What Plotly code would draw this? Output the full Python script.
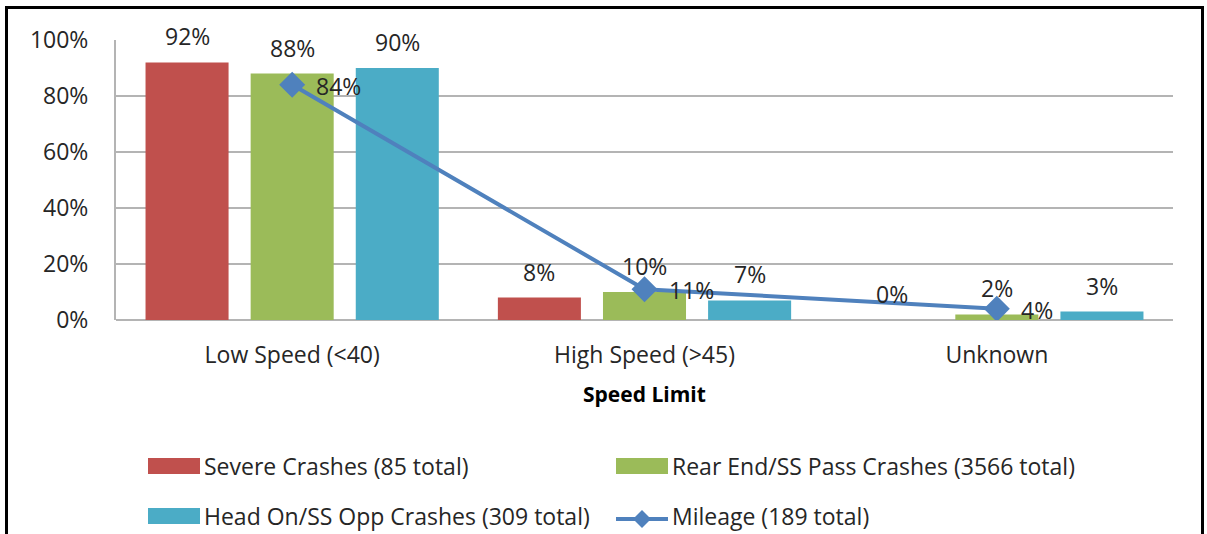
import plotly.graph_objects as go

# Crash share by posted speed limit
categories = ["Low Speed (<40)", "High Speed (>45)", "Unknown"]
severe = [92, 8, 0]
rear_end = [88, 10, 2]
head_on = [90, 7, 3]
mileage = [84, 11, 4]

bar_names = ["Severe Crashes (85 total)", "Rear End/SS Pass Crashes (3566 total)",
             "Head On/SS Opp Crashes (309 total)"]
line_name = "Mileage (189 total)"
y_ticks = [0, 20, 40, 60, 80, 100]

bar_colors = ["#C0504D", "#9BBB59", "#4BACC6"]
line_color = "#4F81BD"
text_color = "#262626"
grid_color = "#B4B4B4"
FONT = "Open Sans"
FS = 23

W, H = 1207, 534
ML, MR, MT, MB = 116, 34, 40, 214
PW, PH = W - ML - MR, H - MT - MB
BARGAP, GROUPGAP = 0.105, 0.21


def px(xpix):
    return (xpix - ML) / PW


def py(ypix):
    return (H - MB - ypix) / PH


fig = go.Figure()
series = [severe, rear_end, head_on]
for name, vals, col in zip(bar_names, series, bar_colors):
    fig.add_trace(go.Bar(x=categories, y=vals, name=name, marker_color=col,
                         marker_line_width=0, showlegend=False))

fig.add_trace(go.Scatter(x=categories, y=mileage, name=line_name, mode="lines+markers",
                         line=dict(color=line_color, width=4),
                         marker=dict(symbol="diamond", size=20, color=line_color),
                         showlegend=False))

annotations = []
slot = (1 - BARGAP) / len(series)
for j, vals in enumerate(series):
    for i, v in enumerate(vals):
        annotations.append(dict(x=i + (j - 1) * slot, y=v, xref="x", yref="y",
                                text=f"{v}%", showarrow=False, yshift=26,
                                font=dict(family=FONT, size=FS, color=text_color)))
for i, v in enumerate(mileage):
    annotations.append(dict(x=i, y=v, xref="x", yref="y", text=f"{v}%",
                            showarrow=False, xanchor="left", xshift=22, yshift=-1,
                            font=dict(family=FONT, size=FS, color=text_color)))

# axis title
annotations.append(dict(x=0.5, y=py(394), xref="paper", yref="paper",
                        text="<b>Speed Limit</b>", showarrow=False,
                        xanchor="center", yanchor="middle",
                        font=dict(family=FONT, size=21, color="#000000")))

shapes = []
# chart frame
shapes.append(dict(type="rect", xref="paper", yref="paper",
                   x0=px(6.5), x1=px(1202.5), y0=py(600), y1=py(7.5),
                   line=dict(color="#000000", width=3), fillcolor="rgba(0,0,0,0)"))

# legend
legend_rows = [(466, [(148, bar_names[0], bar_colors[0], "bar"),
                      (616, bar_names[1], bar_colors[1], "bar")]),
               (516, [(148, bar_names[2], bar_colors[2], "bar"),
                      (616, line_name, line_color, "line")])]
for yc, items in legend_rows:
    for x0, name, col, kind in items:
        if kind == "bar":
            shapes.append(dict(type="rect", xref="paper", yref="paper",
                               x0=px(x0), x1=px(x0 + 52), y0=py(yc + 8), y1=py(yc - 8),
                               fillcolor=col, line=dict(width=0)))
        else:
            shapes.append(dict(type="line", xref="paper", yref="paper",
                               x0=px(x0), x1=px(x0 + 52), y0=py(yc + 3), y1=py(yc + 3),
                               line=dict(color=col, width=4)))
            cx, cy, r = x0 + 26, yc + 3, 9
            path = (f"M {px(cx)} {py(cy - r)} L {px(cx + r)} {py(cy)} "
                    f"L {px(cx)} {py(cy + r)} L {px(cx - r)} {py(cy)} Z")
            shapes.append(dict(type="path", xref="paper", yref="paper", path=path,
                               fillcolor=col, line=dict(width=0)))
        annotations.append(dict(x=px(x0 + 54), y=py(yc), xref="paper", yref="paper",
                                text=name, showarrow=False, xanchor="left",
                                yanchor="middle",
                                font=dict(family=FONT, size=FS, color=text_color)))

fig.update_layout(
    width=W, height=H,
    margin=dict(l=ML, r=MR, t=MT, b=MB),
    paper_bgcolor="white", plot_bgcolor="white",
    barmode="group", bargap=BARGAP, bargroupgap=GROUPGAP,
    font=dict(family=FONT, size=FS, color=text_color),
    annotations=annotations, shapes=shapes,
    showlegend=False,
)
fig.update_xaxes(type="category", categoryorder="array", categoryarray=categories,
                 showgrid=False, showline=False, ticks="", ticklabelstandoff=19,
                 tickfont=dict(family=FONT, size=FS, color=text_color))
fig.update_yaxes(range=[0, 100], tickvals=y_ticks, ticktext=[f"{t}%" for t in y_ticks],
                 showgrid=True, gridcolor=grid_color, gridwidth=2,
                 zeroline=True, zerolinecolor=grid_color, zerolinewidth=2,
                 showline=True, linecolor=grid_color, linewidth=2,
                 ticks="", ticklabelstandoff=21,
                 tickfont=dict(family=FONT, size=FS, color=text_color))

fig.write_html("out.html")
